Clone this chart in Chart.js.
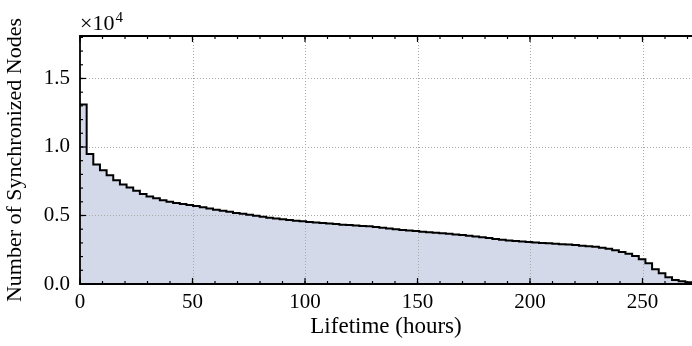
<!DOCTYPE html>
<html>
<head>
<meta charset="utf-8">
<script src="https://cdn.jsdelivr.net/npm/chart.js@4.4.1/dist/chart.umd.min.js"></script>
<style>
  html, body { margin: 0; padding: 0; background: #ffffff; }
  #wrap { width: 692px; height: 346px; }
</style>
</head>
<body>
<div id="wrap"><canvas id="lifetimeChart" width="692" height="346"></canvas></div>
<script>
// Bin edges of the lifetime histogram (hours)
const binEdges = [
  0.00, 2.96, 5.91, 8.87, 11.83, 14.78, 17.74, 20.70, 23.65, 26.61,
  29.57, 32.52, 35.48, 38.43, 41.39, 44.35, 47.30, 50.26, 53.22, 56.17,
  59.13, 62.09, 65.04, 68.00, 70.96, 73.91, 76.87, 79.83, 82.78, 85.74,
  88.70, 91.65, 94.61, 97.57, 100.52, 103.48, 106.43, 109.39, 112.35, 115.30,
  118.26, 121.22, 124.17, 127.13, 130.09, 133.04, 136.00, 138.96, 141.91, 144.87,
  147.83, 150.78, 153.74, 156.70, 159.65, 162.61, 165.57, 168.52, 171.48, 174.43,
  177.39, 180.35, 183.30, 186.26, 189.22, 192.17, 195.13, 198.09, 201.04, 204.00,
  206.96, 209.91, 212.87, 215.83, 218.78, 221.74, 224.70, 227.65, 230.61, 233.57,
  236.52, 239.48, 242.43, 245.39, 248.35, 251.30, 254.26, 257.22, 260.17, 263.13,
  266.09, 269.04, 272.00
];

// Synchronized nodes still alive in each bin
const syncedNodes = [
  13100, 9480, 8720, 8310, 7940, 7580, 7270, 7050, 6800, 6560,
  6390, 6250, 6120, 6000, 5920, 5840, 5770, 5690, 5600, 5510,
  5420, 5350, 5270, 5190, 5120, 5050, 4980, 4910, 4840, 4780,
  4720, 4670, 4620, 4580, 4530, 4490, 4450, 4410, 4370, 4330,
  4300, 4270, 4240, 4210, 4160, 4110, 4050, 4000, 3950, 3900,
  3860, 3820, 3780, 3740, 3700, 3660, 3620, 3580, 3530, 3470,
  3410, 3350, 3290, 3230, 3180, 3140, 3100, 3060, 3030, 3000,
  2970, 2940, 2910, 2880, 2840, 2800, 2760, 2710, 2640, 2570,
  2470, 2330, 2200, 2040, 1800, 1510, 1070, 780, 490, 290,
  200, 120
];

// Axis ticks
const xMajorTicks = [0, 50, 100, 150, 200, 250];
const xMinorTicks = [0, 10, 20, 30, 40, 50, 60, 70, 80, 90, 100, 110, 120, 130, 140, 150, 160, 170, 180, 190, 200, 210, 220, 230, 240, 250, 260, 270];
const yMajorTicks = [0, 5000, 10000, 15000];
const yMinorTicks = [0, 1000, 2000, 3000, 4000, 5000, 6000, 7000, 8000, 9000, 10000, 11000, 12000, 13000, 14000, 15000, 16000, 17000, 18000];
const xGridValues = [50, 100, 150, 200, 250];
const yGridValues = [5000, 10000, 15000];

const SERIF = '"Liberation Serif", "Times New Roman", serif';

// step points: each value holds from its left edge to the next edge
function stepPoints() {
  const pts = syncedNodes.map((v, i) => ({ x: binEdges[i], y: v }));
  pts.push({ x: binEdges[binEdges.length - 1], y: syncedNodes[syncedNodes.length - 1] });
  return pts;
}

const axesDecor = {
  id: 'axesDecor',
  afterDatasetDraw(chart, args) {
    if (args.index !== 0) return; // grid sits above the fill, below the outline
    const { ctx, chartArea: a, scales: { x, y } } = chart;
    ctx.save();
    ctx.strokeStyle = '#a8a8a8';
    ctx.lineWidth = 1;
    ctx.setLineDash([1, 2]);
    xGridValues.forEach(v => {
      const px = Math.round(x.getPixelForValue(v)) + 0.5;
      ctx.beginPath(); ctx.moveTo(px, a.top); ctx.lineTo(px, a.bottom); ctx.stroke();
    });
    yGridValues.forEach(v => {
      const py = Math.round(y.getPixelForValue(v)) + 0.5;
      ctx.beginPath(); ctx.moveTo(a.left, py); ctx.lineTo(a.right, py); ctx.stroke();
    });
    ctx.restore();
  },
  afterDraw(chart) {
    const { ctx, chartArea: a, scales: { x, y } } = chart;
    ctx.save();
    ctx.strokeStyle = '#000';
    // inward ticks
    ctx.lineWidth = 1.2;
    const tick = (x0, y0, x1, y1) => { ctx.beginPath(); ctx.moveTo(x0, y0); ctx.lineTo(x1, y1); ctx.stroke(); };
    xMinorTicks.forEach(v => {
      const px = x.getPixelForValue(v);
      tick(px, a.bottom, px, a.bottom - 3);
      tick(px, a.top, px, a.top + 3);
    });
    xMajorTicks.forEach(v => {
      const px = x.getPixelForValue(v);
      tick(px, a.bottom, px, a.bottom - 6);
      tick(px, a.top, px, a.top + 6);
    });
    yMinorTicks.forEach(v => {
      const py = y.getPixelForValue(v);
      tick(a.left, py, a.left + 3, py);
    });
    yMajorTicks.forEach(v => {
      const py = y.getPixelForValue(v);
      tick(a.left, py, a.left + 6, py);
    });
    // spines
    ctx.lineWidth = 1.8;
    ctx.beginPath();
    ctx.moveTo(a.right + 2, a.top);
    ctx.lineTo(a.left, a.top);
    ctx.lineTo(a.left, a.bottom);
    ctx.lineTo(a.right + 2, a.bottom);
    ctx.stroke();
    // scale factor label
    ctx.fillStyle = '#000';
    ctx.textBaseline = 'alphabetic';
    ctx.textAlign = 'left';
    ctx.font = '22px ' + SERIF;
    const base = '\u00d710';
    ctx.fillText(base, a.left, 30);
    const w = ctx.measureText(base).width;
    ctx.font = '15px ' + SERIF;
    ctx.fillText('4', a.left + w + 1, 22);
    ctx.restore();
  }
};

new Chart(document.getElementById('lifetimeChart'), {
  type: 'line',
  data: {
    datasets: [
      {
        label: 'area',
        data: stepPoints(),
        stepped: 'before',
        borderWidth: 0,
        borderColor: 'rgba(0,0,0,0)',
        backgroundColor: 'rgb(211,217,232)',
        fill: 'origin',
        pointRadius: 0,
        order: 2
      },
      {
        label: 'outline',
        data: stepPoints(),
        stepped: 'before',
        borderWidth: 2,
        borderColor: '#000000',
        fill: false,
        pointRadius: 0,
        order: 1
      }
    ]
  },
  options: {
    responsive: false,
    animation: false,
    devicePixelRatio: 1,
    layout: { padding: { top: 36, right: 0, bottom: 0, left: 0 } },
    plugins: {
      legend: { display: false },
      tooltip: { enabled: false }
    },
    scales: {
      x: {
        type: 'linear',
        min: 0,
        max: 272,
        grid: { display: false, drawTicks: false },
        border: { display: false },
        afterBuildTicks(scale) { scale.ticks = xMajorTicks.map(v => ({ value: v })); },
        ticks: {
          autoSkip: false,
          maxRotation: 0,
          padding: 6,
          color: '#000',
          font: { family: SERIF, size: 21 }
        },
        title: {
          display: true,
          text: 'Lifetime (hours)',
          color: '#000',
          font: { family: SERIF, size: 23 },
          padding: { top: 0, bottom: 5 }
        },
        afterFit(scale) { scale.height = 62; }
      },
      y: {
        type: 'linear',
        min: 0,
        max: 18100,
        grid: { display: false, drawTicks: false },
        border: { display: false },
        afterBuildTicks(scale) { scale.ticks = yMajorTicks.map(v => ({ value: v })); },
        ticks: {
          padding: 10,
          color: '#000',
          font: { family: SERIF, size: 21 },
          callback: v => (v / 10000).toFixed(1)
        },
        title: {
          display: true,
          text: 'Number of Synchronized Nodes',
          color: '#000',
          font: { family: SERIF, size: 22 },
          padding: { top: 2, bottom: 0 }
        },
        afterFit(scale) { scale.width = 80; }
      }
    }
  },
  plugins: [axesDecor]
});
</script>
</body>
</html>
